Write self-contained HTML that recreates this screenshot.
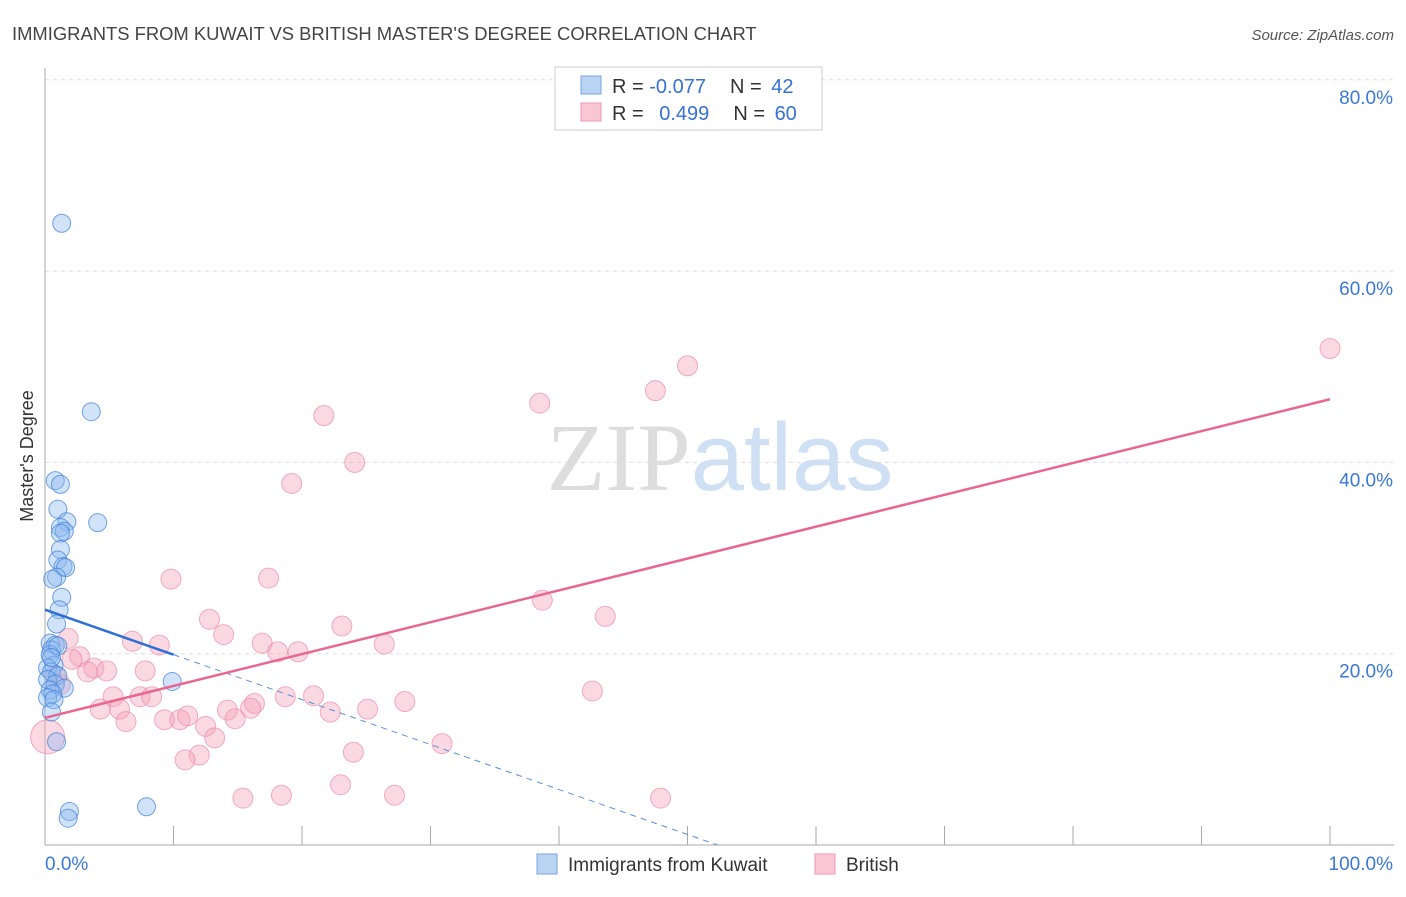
<!DOCTYPE html>
<html><head><meta charset="utf-8"><style>
body{margin:0;background:#fff;font-family:"Liberation Sans",sans-serif;}
svg text{font-family:"Liberation Sans",sans-serif;}
</style></head><body>
<svg id="chart" width="1406" height="892" xmlns="http://www.w3.org/2000/svg">
<text x="12" y="40" font-size="18.4" fill="#444">IMMIGRANTS FROM KUWAIT VS BRITISH MASTER'S DEGREE CORRELATION CHART</text>
<text x="1394" y="40" font-size="15" fill="#555" text-anchor="end" font-style="italic">Source: ZipAtlas.com</text>
<text x="720" y="490" font-size="96" text-anchor="middle"><tspan fill="#ddd" font-family="Liberation Serif">ZIP</tspan><tspan fill="#cfe0f5">atlas</tspan></text>
<g id="grid"></g><g id="axes"></g><g id="marks"></g>
<text transform="translate(33,456) rotate(-90)" font-size="18" fill="#333" text-anchor="middle">Master's Degree</text>
<g>
<rect x="555" y="67" width="267" height="63" fill="#fff" stroke="#ccc"/>
<rect x="581" y="76" width="20" height="18" fill="#b9d3f3" stroke="#7aa7e0"/>
<rect x="581" y="103" width="20" height="18" fill="#f9c6d5" stroke="#ee99b2"/>
<text x="612" y="93" font-size="20" fill="#333">R = <tspan fill="#3572d4">-0.077</tspan><tspan dx="24">N = </tspan><tspan fill="#3572d4" dx="4">42</tspan></text>
<text x="612" y="120" font-size="20" fill="#333">R = <tspan fill="#3572d4" dx="10">0.499</tspan><tspan dx="24">N = </tspan><tspan fill="#3572d4" dx="4">60</tspan></text>
</g>
<g>
<rect x="537" y="854" width="20" height="20" fill="#b9d3f3" stroke="#7aa7e0"/>
<text x="568" y="871" font-size="19" fill="#333">Immigrants from Kuwait</text>
<rect x="815" y="854" width="20" height="20" fill="#f9c6d5" stroke="#ee99b2"/>
<text x="846" y="871" font-size="19" fill="#333">British</text>
</g>
</svg>
<script>
const yTicks=[20,40,60,80];
const yTickLabels=["20.0%","40.0%","60.0%","80.0%"];
const xTicks=[10,20,30,40,50,60,70,80,90,100];
const blueX=[1.3,3.6,0.8,1.2,4.1,1.0,1.7,1.2,1.5,1.2,1.2,1.0,1.4,1.6,0.9,0.6,1.3,1.1,0.9,0.4,0.8,0.5,0.4,0.7,0.2,0.5,1.0,0.2,0.8,1.5,0.4,0.6,0.2,0.7,0.5,0.9,1.9,1.8,7.9,9.9,1.0,0.5];
const blueY=[65.0,45.3,38.1,37.7,33.7,35.1,33.8,33.2,32.8,32.6,30.9,29.8,29.1,29.0,28.0,27.8,25.9,24.6,23.1,21.1,20.9,20.4,19.9,18.8,18.5,18.1,17.7,17.3,16.8,16.4,16.2,15.8,15.4,15.2,13.9,10.8,3.5,2.8,4.0,17.1,20.8,19.6];
const pinkX=[100,50.0,47.5,38.5,21.7,24.1,19.2,9.8,17.4,38.7,43.6,12.8,13.9,1.8,6.8,8.9,16.9,23.1,26.4,18.1,19.7,2.7,2.1,3.8,3.3,4.8,7.8,0.8,1.2,5.3,7.4,8.3,18.7,20.9,28.0,42.6,4.3,5.8,14.2,16.3,16.0,25.1,22.2,9.3,10.5,11.1,14.8,6.3,12.5,13.2,30.9,24.0,12.0,10.9,0.2,15.4,18.4,23.0,27.2,47.9];
const pinkY=[51.9,50.1,47.5,46.2,44.9,40.0,37.8,27.8,27.9,25.6,23.9,23.6,22.0,21.6,21.3,20.9,21.1,22.9,21.0,20.2,20.2,19.7,19.4,18.5,18.1,18.2,18.2,17.7,16.8,15.5,15.5,15.5,15.5,15.6,15.0,16.1,14.2,14.2,14.1,14.8,14.3,14.2,13.9,13.1,13.1,13.5,13.2,12.9,12.4,11.2,10.6,9.7,9.4,8.9,11.3,4.9,5.2,6.3,5.2,4.9];
const pinkR=pinkX.map((v,i)=>i===54?17:10);
const blueFit=[24.6,-0.47];
const pinkFit=[13.3,0.333];
const NS="http://www.w3.org/2000/svg";
const X=v=>45+v*12.85, Y=v=>845-v*9.565;
function mk(p,t,a){const e=document.createElementNS(NS,t);for(const k in a)e.setAttribute(k,a[k]);p.appendChild(e);return e;}
const grid=document.getElementById('grid'),axes=document.getElementById('axes'),marks=document.getElementById('marks');
yTicks.forEach((t,i)=>{
 const l=mk(grid,'line',{x1:45,x2:1394,y1:Y(t),y2:Y(t),stroke:'#ddd','stroke-dasharray':'4,4'});
 
 
 const tx=mk(axes,'text',{x:1393,y:Y(t)+24,'font-size':19,fill:'#3a78d6','text-anchor':'end'});
 tx.textContent=yTickLabels[i];
 
 
});
const ax=mk(axes,'line',{x1:45,x2:45,y1:68,y2:845,stroke:'#aaa'});


const bx=mk(axes,'line',{x1:45,x2:1394,y1:845,y2:845,stroke:'#aaa'});


xTicks.forEach(t=>{const l=mk(axes,'line',{x1:X(t),x2:X(t),y1:826,y2:845,stroke:'#aaa'});
 
 });
let t0=mk(axes,'text',{x:45,y:870,'font-size':19,fill:'#3a78d6'});t0.textContent='0.0%';


let t1=mk(axes,'text',{x:1393,y:870,'font-size':19,fill:'#3a78d6','text-anchor':'end'});t1.textContent='100.0%';


pinkX.forEach((v,i)=>{const c=mk(marks,'circle',{cx:X(v),cy:Y(pinkY[i]),r:pinkR[i],fill:'rgba(245,160,185,0.4)',stroke:'rgba(236,140,170,0.7)'});
 
 });
blueX.forEach((v,i)=>{const c=mk(marks,'circle',{cx:X(v),cy:Y(blueY[i]),r:9,fill:'rgba(140,185,240,0.4)',stroke:'rgba(60,125,215,0.7)'});
 
 });
const bf=x=>blueFit[0]+blueFit[1]*x, pf=x=>pinkFit[0]+pinkFit[1]*x;
const xEnd=-blueFit[0]/blueFit[1];
let l1=mk(marks,'line',{x1:X(0),y1:Y(bf(0)),x2:X(10),y2:Y(bf(10)),stroke:'#2f6fd6','stroke-width':2.5});


let l2=mk(marks,'line',{x1:X(10),y1:Y(bf(10)),x2:X(xEnd),y2:Y(0),stroke:'#5a8fdc','stroke-width':1,'stroke-dasharray':'6,5'});


let l3=mk(marks,'line',{x1:X(0),y1:Y(pf(0)),x2:X(100),y2:Y(pf(100)),stroke:'#e8668f','stroke-width':2.5});


</script>
</body></html>
